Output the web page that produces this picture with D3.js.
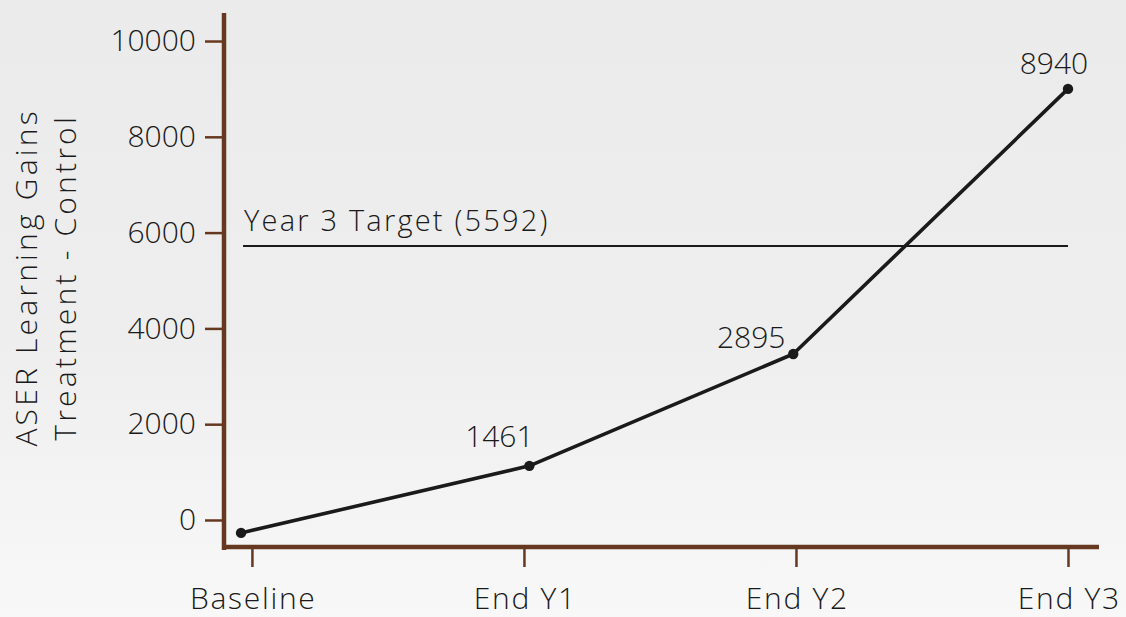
<!DOCTYPE html>
<html><head><meta charset="utf-8">
<script src="https://cdn.jsdelivr.net/npm/d3@7"></script>
<style>
html,body{margin:0;padding:0;}
body{width:1126px;height:617px;overflow:hidden;}
svg{display:block;}
text{font-family:"Open Sans",Lato,sans-serif;fill:#1a1a1a;font-weight:300;}
</style></head>
<body>
<svg id="chart" width="1126" height="617"></svg>
<script>
// ---- data ----
const categories = ["Baseline", "End Y1", "End Y2", "End Y3"];
const periods = [-0.04, 1.02, 1.99, 3.0];          // plotted position of each point along the period axis
const gains = [-270, 1130, 3465, 9000];             // plotted values
const valueLabels = ["", "1461", "2895", "8940"];  // printed labels
const targetValue = 5720;
const targetLabel = "Year 3 Target (5592)";
const yTicks = [0, 2000, 4000, 6000, 8000, 10000];
const yTitle = ["ASER Learning Gains", "Treatment - Control"];

// label offsets (layout)
const labelOffsets = [[0,0], [-30,-19], [-42,-6], [-14,-15]];

const W = 1126, H = 617;
const brown = "#673820";
const FS = 30;
const svg = d3.select("#chart");

const defs = svg.append("defs");
const grad = defs.append("linearGradient").attr("id","bg").attr("x1",0).attr("y1",0).attr("x2",0).attr("y2",1);
grad.append("stop").attr("offset","0%").attr("stop-color","#ebebeb");
grad.append("stop").attr("offset","55%").attr("stop-color","#eeeeee");
grad.append("stop").attr("offset","100%").attr("stop-color","#f8f8f8");
svg.append("rect").attr("width",W).attr("height",H).attr("fill","url(#bg)");

const x = d3.scaleLinear().domain([-0.11, 3.114]).range([222, 1099]);
const y = d3.scaleLinear().domain([-585, 10585]).range([548, 13]);
const axisX = 224;

// y axis
const gy = svg.append("g").attr("transform",`translate(${axisX},0)`)
  .call(d3.axisLeft(y).tickValues(yTicks).tickSize(19).tickPadding(9).tickFormat(d3.format("d")));
gy.select(".domain").remove();
gy.selectAll(".tick line").attr("stroke",brown).attr("stroke-width",2.5);
gy.selectAll(".tick text").attr("font-size",FS).attr("fill","#1a1a1a").attr("font-family",null);

// x axis
const gx = svg.append("g").attr("transform",`translate(0,${y.range()[0]})`)
  .call(d3.axisBottom(x).tickValues(d3.range(categories.length)).tickSize(19).tickPadding(16)
        .tickFormat(i => categories[i]));
gx.select(".domain").remove();
gx.selectAll(".tick line").attr("stroke",brown).attr("stroke-width",2.5);
gx.selectAll(".tick text").attr("font-size",FS).attr("fill","#1a1a1a").attr("font-family",null)
  .attr("dy","0.85em").attr("letter-spacing",1.7).attr("dx",0.85);

// axis lines
svg.append("line").attr("x1",axisX).attr("x2",axisX).attr("y1",y.range()[1]).attr("y2",y.range()[0]+2)
  .attr("stroke",brown).attr("stroke-width",4.5);
svg.append("line").attr("x1",x.range()[0]).attr("x2",x.range()[1]).attr("y1",y.range()[0]-1).attr("y2",y.range()[0]-1)
  .attr("stroke",brown).attr("stroke-width",4.5);

// y title
const yt = svg.append("text").attr("transform",`translate(26,${279}) rotate(-90)`)
  .attr("text-anchor","middle").attr("font-size",FS).attr("letter-spacing",3.2);
yt.append("tspan").attr("x",1.6).attr("dy","0.35em").text(yTitle[0]);
yt.append("tspan").attr("x",1.6).attr("dy","1.33em").text(yTitle[1]);

// target line
svg.append("line").attr("x1",x(periods[0])+2).attr("x2",x(periods[periods.length-1]))
  .attr("y1",y(targetValue)).attr("y2",y(targetValue)).attr("stroke","#1a1a1a").attr("stroke-width",2.2);
svg.append("text").attr("x",x(periods[0])+3).attr("y",y(targetValue)-15)
  .attr("font-size",FS-1).attr("letter-spacing",2.2).text(targetLabel);

// series line
const pts = gains.map((v,i)=>({x:periods[i], y:v, label:valueLabels[i], off:labelOffsets[i]}));
svg.append("path").datum(pts)
  .attr("d", d3.line().x(d=>x(d.x)).y(d=>y(d.y)))
  .attr("fill","none").attr("stroke","#1a1a1a").attr("stroke-width",3.6).attr("stroke-linejoin","round");
svg.selectAll("circle.pt").data(pts).join("circle").attr("class","pt")
  .attr("cx",d=>x(d.x)).attr("cy",d=>y(d.y)).attr("r",5.2).attr("fill","#1a1a1a");
svg.selectAll("text.lbl").data(pts.filter(d=>d.label)).join("text").attr("class","lbl")
  .attr("x",d=>x(d.x)+d.off[0]).attr("y",d=>y(d.y)+d.off[1])
  .attr("text-anchor","middle").attr("font-size",FS).text(d=>d.label);
</script>
</body></html>
